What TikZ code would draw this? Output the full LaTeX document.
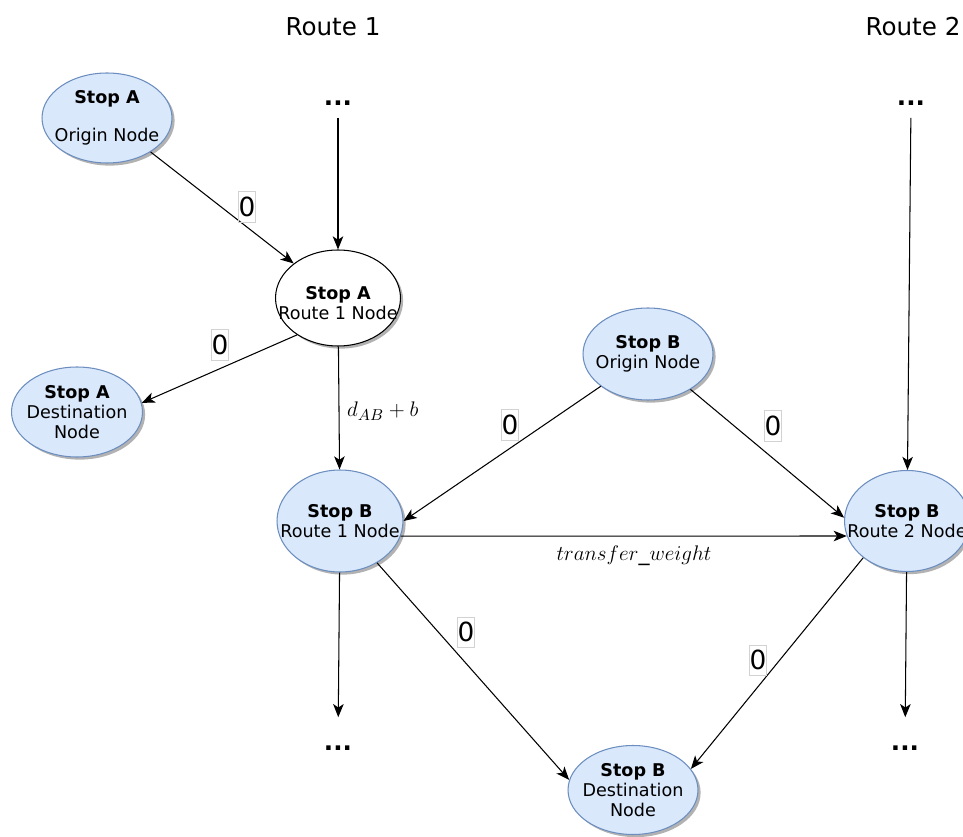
\documentclass[tikz,border=0pt]{standalone}
\usepackage{fontspec}
\setmainfont{DejaVu Sans}
\usetikzlibrary{shapes.geometric,shadows,arrows.meta}
\definecolor{nodeblue}{HTML}{DAE8FC}
\definecolor{nodeedge}{HTML}{6C8EBF}
\tikzset{
	stopnode/.style={ellipse, draw=nodeedge, fill=nodeblue, line width=0.6pt, inner sep=0pt, drop shadow={shadow xshift=1.5pt, shadow yshift=-1.5pt, opacity=0.3, fill=black}},
	stoptext/.style={align=center, inner sep=0pt, font=\fontsize{10}{11.5}\selectfont},
	weight/.style={draw=gray!35, line width=0.3pt, inner xsep=0pt, inner ysep=3pt, font=\fontsize{15}{17}\selectfont},
	dots/.style={font=\fontsize{14}{16}\selectfont\bfseries, inner sep=7pt},
	link/.style={->, >={Stealth[length=7.5pt,width=6pt,inset=2pt]}, line width=0.6pt},
}
\begin{document}
\begin{tikzpicture}[x=0.02cm, y=-0.02cm]
	\clip (0,0) rectangle (963,837);
	\node[font=\fontsize{14}{16}\selectfont] (title1) at (333,27) {Route 1};
	\node[font=\fontsize{14}{16}\selectfont] (title2) at (913,27) {Route 2};
	
	\node[stopnode, minimum width=2.6cm, minimum height=1.8cm, label={[stoptext]center:{\textbf{Stop A}\\[10pt]Origin Node}}] (oA) at (107,118) {};
	\node[stopnode, fill=white, draw=black, minimum width=2.5cm, minimum height=1.92cm, label={[stoptext, yshift=-3pt]center:{\textbf{Stop A}\\Route 1 Node}}] (r1A) at (338,298) {};
	\node[stopnode, minimum width=2.62cm, minimum height=1.8cm, label={[stoptext]center:{\textbf{Stop A}\\Destination\\Node}}] (dA) at (77,412) {};
	\node[stopnode, minimum width=2.52cm, minimum height=2.04cm, label={[stoptext]center:{\textbf{Stop B}\\Route 1 Node}}] (r1B) at (340,521) {};
	\node[stopnode, minimum width=2.6cm, minimum height=1.84cm, label={[stoptext]center:{\textbf{Stop B}\\Origin Node}}] (oB) at (648,354) {};
	\node[stopnode, minimum width=2.5cm, minimum height=2.02cm, label={[stoptext]center:{\textbf{Stop B}\\Route 2 Node}}] (r2B) at (907,521) {};
	\node[stopnode, minimum width=2.6cm, minimum height=1.78cm, label={[stoptext]center:{\textbf{Stop B}\\Destination\\Node}}] (dB) at (633,790) {};
	
	\node[dots] (t1) at (338,103) {...};
	\node[dots] (t2) at (911,103) {...};
	\node[dots, inner ysep=16pt] (b1) at (338,748) {...};
	\node[dots, inner ysep=16pt] (b2) at (905,748) {...};
	
	\draw[link] (t1) -- (r1A);
	\draw[link] (t2) -- (r2B);
	\draw[link] (oA) -- (r1A);
	\draw[link] (r1A.222) -- (dA.8);
	\draw[link] (r1A) -- (r1B);
	\draw[link] (oB) -- (r1B.east);
	\draw[link] (oB) -- (r2B.177);
	\draw[link] (r1B.-14) -- (r2B.194);
	\draw[link] (r1B) -- (dB.171);
	\draw[link] (r2B.220) -- (dB.20);
	\draw[link] (r1B) -- (b1);
	\draw[link] (r2B) -- (b2);
	
	\node[weight] (w1) at (247,207) {0};
	\node[weight] (w2) at (220,345) {0};
	\node[anchor=west, font=\fontsize{13}{15}\selectfont] (cost) at (341,411) {$d_{AB}+b$};
	\node[weight] (w3) at (510,425) {0};
	\node[weight] (w4) at (773,426) {0};
	\node[font=\fontsize{12.5}{15}\selectfont] (transfer) at (634,556) {$transfer\_weight$};
	\node[weight] (w5) at (466,632) {0};
	\node[weight] (w6) at (758,660) {0};
\end{tikzpicture}
\end{document}
